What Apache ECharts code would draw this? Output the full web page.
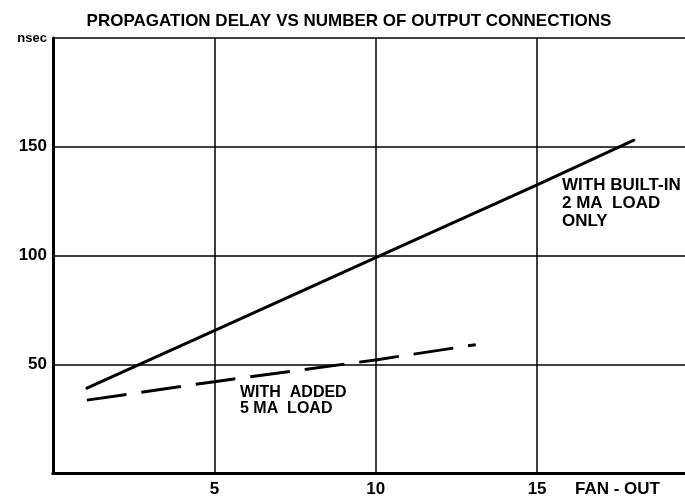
<!DOCTYPE html>
<html>
<head>
<meta charset="utf-8">
<script src="https://cdn.jsdelivr.net/npm/echarts@6/dist/echarts.min.js"></script>
<style>
  html, body { margin: 0; padding: 0; background: #fff; overflow: hidden; }
  /* the frame runs past the right edge of the page, so its right side stays hidden */
  #chart { width: 692px; height: 500px; }
</style>
</head>
<body>
<div id="chart"></div>
<script>
// Propagation delay (nsec) against fan-out, two load conditions
const titleText = 'PROPAGATION DELAY VS NUMBER OF OUTPUT CONNECTIONS';
const fanOutBuiltIn = [1.05, 5, 10, 15, 18];
const delayBuiltIn = [39, 65.5, 99, 132.5, 153];
const fanOutAdded = [1.05, 5, 10, 13.1];
const delayAdded = [33.5, 42, 52, 59];
const xTicks = [5, 10, 15];
const yTicks = [50, 100, 150];
const yUnit = 'nsec';
const xName = 'FAN - OUT';
const noteBuiltIn = ['WITH BUILT-IN', '2 MA  LOAD', 'ONLY'];
const noteAdded = ['WITH  ADDED', '5 MA  LOAD'];

const FONT = 'Liberation Sans';
const X_MAX = 19.8;
const pair = (xs, ys) => xs.map((x, i) => [x, ys[i]]);

const chart = echarts.init(document.getElementById('chart'), null, { renderer: 'canvas' });

const labelStyle = { color: '#000', fontFamily: FONT, fontWeight: 'bold', fontSize: 17 };

chart.setOption({
  animation: false,
  backgroundColor: '#fff',
  title: {
    text: titleText,
    left: 344,
    textAlign: 'center',
    top: 8,
    textStyle: { color: '#000', fontFamily: FONT, fontWeight: 'bold', fontSize: 17 }
  },
  grid: { left: 53, right: 0, top: 38, bottom: 27 },
  xAxis: [{
    type: 'value',
    min: 0,
    max: X_MAX,
    interval: 5,
    axisLine: { show: true, onZero: false, lineStyle: { color: '#000', width: 3 } },
    axisTick: { show: false },
    splitLine: { show: true, lineStyle: { color: '#000', width: 1.5 } },
    axisLabel: Object.assign({
      margin: 8,
      showMinLabel: false,
      showMaxLabel: false,
      formatter: v => xTicks.includes(v) ? String(v) : ''
    }, labelStyle)
  }, {
    type: 'value',
    position: 'top',
    min: 0,
    max: X_MAX,
    axisLine: { show: true, lineStyle: { color: '#000', width: 3 } },
    axisTick: { show: false },
    axisLabel: { show: false },
    splitLine: { show: false }
  }],
  yAxis: {
    type: 'value',
    min: 0,
    max: 200,
    interval: 50,
    axisLine: { show: true, onZero: false, lineStyle: { color: '#000', width: 3 } },
    axisTick: { show: false },
    splitLine: { show: true, lineStyle: { color: '#000', width: 1.5 } },
    axisLabel: Object.assign({
      margin: 6,
      formatter: v => v === 200 ? '{u|' + yUnit + '}' : (yTicks.includes(v) ? String(v) : ''),
      rich: { u: { color: '#000', fontFamily: FONT, fontWeight: 'bold', fontSize: 13 } }
    }, labelStyle)
  },
  graphic: [
    {
      type: 'text', left: 575, top: 481,
      style: { text: xName, fill: '#000', font: 'bold 17px "' + FONT + '"' }
    },
    {
      type: 'text', left: 562, top: 176,
      style: { text: noteBuiltIn.join('\n'), fill: '#000', font: 'bold 17px "' + FONT + '"', lineHeight: 18 }
    },
    {
      type: 'text', left: 240, top: 384,
      style: { text: noteAdded.join('\n'), fill: '#000', font: 'bold 16px "' + FONT + '"', lineHeight: 16.5 }
    }
  ],
  series: [
    {
      type: 'line',
      data: pair(fanOutBuiltIn, delayBuiltIn),
      showSymbol: false,
      symbol: 'none',
      lineStyle: { color: '#000', width: 3, cap: 'round' }
    },
    {
      type: 'line',
      data: pair(fanOutAdded, delayAdded),
      showSymbol: false,
      symbol: 'none',
      lineStyle: { color: '#000', width: 3, type: [40, 15] }
    }
  ]
});
</script>
</body>
</html>
